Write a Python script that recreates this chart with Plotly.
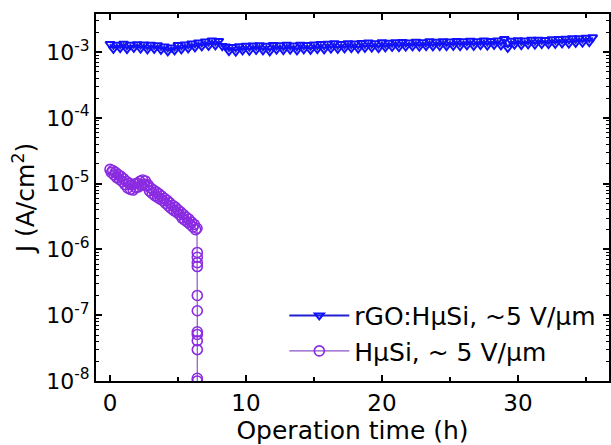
import plotly.graph_objects as go

# ---- data ----
rgo_time_h = [0.0, 0.25, 0.5, 0.75, 1.0, 1.25, 1.5, 1.75, 2.0, 2.25,
              2.5, 2.75, 3.0, 3.25, 3.5, 3.75, 4.0, 4.25, 4.5, 4.75,
              5.0, 5.25, 5.5, 5.75, 6.0, 6.25, 6.5, 6.75, 7.0, 7.25,
              7.5, 7.75, 8.0, 8.25, 8.5, 8.75, 9.0, 9.25, 9.5, 9.75,
              10.0, 10.25, 10.5, 10.75, 11.0, 11.25, 11.5, 11.75, 12.0, 12.25,
              12.5, 12.75, 13.0, 13.25, 13.5, 13.75, 14.0, 14.25, 14.5, 14.75,
              15.0, 15.25, 15.5, 15.75, 16.0, 16.25, 16.5, 16.75, 17.0, 17.25,
              17.5, 17.75, 18.0, 18.25, 18.5, 18.75, 19.0, 19.25, 19.5, 19.75,
              20.0, 20.25, 20.5, 20.75, 21.0, 21.25, 21.5, 21.75, 22.0, 22.25,
              22.5, 22.75, 23.0, 23.25, 23.5, 23.75, 24.0, 24.25, 24.5, 24.75,
              25.0, 25.25, 25.5, 25.75, 26.0, 26.25, 26.5, 26.75, 27.0, 27.25,
              27.5, 27.75, 28.0, 28.25, 28.5, 28.75, 29.0, 29.25, 29.5, 29.75,
              30.0, 30.25, 30.5, 30.75, 31.0, 31.25, 31.5, 31.75, 32.0, 32.25,
              32.5, 32.75, 33.0, 33.25, 33.5, 33.75, 34.0, 34.25, 34.5, 34.75,
              35.0, 35.25, 35.5]
# current density in mA/cm^2 (converted to A/cm^2 below)
rgo_j_mA = [1.33, 1.12, 1.30, 1.15, 1.34, 1.11, 1.29, 1.16, 1.32, 1.13,
            1.31, 1.10, 1.29, 1.12, 1.27, 1.08, 1.22, 1.03, 1.18, 1.06,
            1.28, 1.10, 1.31, 1.14, 1.35, 1.18, 1.40, 1.22, 1.45, 1.25,
            1.50, 1.27, 1.48, 1.24, 1.22, 1.04, 1.20, 1.02, 1.23, 1.06,
            1.25, 1.05, 1.26, 1.08, 1.27, 1.06, 1.25, 1.03, 1.28, 1.09,
            1.27, 1.07, 1.29, 1.09, 1.26, 1.06, 1.30, 1.10, 1.28, 1.08,
            1.31, 1.11, 1.33, 1.10, 1.34, 1.13, 1.36, 1.12, 1.33, 1.14,
            1.37, 1.15, 1.35, 1.13, 1.38, 1.16, 1.40, 1.17, 1.37, 1.15,
            1.41, 1.18, 1.39, 1.20, 1.42, 1.19, 1.43, 1.21, 1.40, 1.22,
            1.44, 1.21, 1.42, 1.23, 1.46, 1.22, 1.44, 1.24, 1.47, 1.23,
            1.45, 1.25, 1.48, 1.24, 1.46, 1.27, 1.49, 1.25, 1.47, 1.28,
            1.50, 1.26, 1.48, 1.29, 1.51, 1.27, 1.58, 1.16, 1.49, 1.30,
            1.52, 1.28, 1.50, 1.31, 1.54, 1.30, 1.55, 1.33, 1.53, 1.32,
            1.57, 1.34, 1.58, 1.36, 1.60, 1.35, 1.62, 1.38, 1.63, 1.40,
            1.66, 1.42, 1.68]

hsi_time_h = [0.0, 0.1, 0.2, 0.3, 0.4, 0.5, 0.6, 0.7, 0.8, 0.9,
              1.0, 1.1, 1.2, 1.3, 1.4, 1.5, 1.6, 1.7, 1.8, 1.9,
              2.0, 2.1, 2.2, 2.3, 2.4, 2.5, 2.6, 2.7, 2.8, 2.9,
              3.0, 3.1, 3.2, 3.3, 3.4, 3.5, 3.6, 3.7, 3.8, 3.9,
              4.0, 4.1, 4.2, 4.3, 4.4, 4.5, 4.6, 4.7, 4.8, 4.9,
              5.0, 5.1, 5.2, 5.3, 5.4, 5.5, 5.6, 5.7, 5.8, 5.9,
              6.0, 6.1, 6.2, 6.3, 6.4,
              6.42, 6.42, 6.42, 6.42, 6.42, 6.42, 6.42, 6.42, 6.42, 6.42, 6.42, 6.42]
# current density in uA/cm^2 (converted to A/cm^2 below)
hsi_j_uA = [16.5, 14.8, 15.9, 13.6, 14.9, 12.4, 13.8, 11.6, 12.9, 10.8,
            11.9, 9.7, 10.9, 8.6, 10.2, 8.2, 9.6, 8.0, 9.9, 8.7,
            10.1, 8.9, 10.9, 9.6, 11.4, 9.9, 11.0, 9.2, 9.6, 7.8,
            8.6, 7.1, 8.0, 6.6, 7.5, 6.2, 7.0, 5.8, 6.5, 5.5,
            6.0, 5.0, 5.6, 4.6, 5.1, 4.2, 4.7, 3.9, 4.4, 3.7,
            4.0, 3.4, 3.7, 3.0, 3.4, 2.8, 3.1, 2.6, 2.9, 2.4,
            2.6, 2.2, 2.4, 2.0, 2.1,
            0.90, 0.76, 0.63, 0.55, 0.20, 0.117, 0.056, 0.051, 0.041, 0.030, 0.011, 0.010]

rgo_label = "rGO:HμSi, ~5 V/μm"
hsi_label = "HμSi, ~ 5 V/μm"

y_tick_vals = [1e-8, 1e-7, 1e-6, 1e-5, 1e-4, 1e-3]
y_tick_text = ["10<sup>-8</sup>", "10<sup>-7</sup>", "10<sup>-6</sup>",
               "10<sup>-5</sup>", "10<sup>-4</sup>", "10<sup>-3</sup>"]
x_tick_vals = [0, 10, 20, 30]
x_minor_vals = [5, 15, 25, 35]
y_minor_vals = [m * d for d in y_tick_vals for m in range(2, 10)]

rgo_j = [v * 1e-3 for v in rgo_j_mA]
hsi_j = [v * 1e-6 for v in hsi_j_uA]

FONT = "DejaVu Sans, Verdana, sans-serif"

fig = go.Figure()
fig.add_trace(go.Scatter(
    x=rgo_time_h, y=rgo_j, mode="lines+markers", name=rgo_label,
    line=dict(color="#2020d0", width=2),
    marker=dict(symbol="triangle-down-open", size=8, color="#1010ff",
                line=dict(width=2, color="#1010ff")),
))
fig.add_trace(go.Scatter(
    x=hsi_time_h, y=hsi_j, mode="lines+markers", name=hsi_label,
    line=dict(color="#8b55c8", width=1.2),
    marker=dict(symbol="circle-open", size=10, color="#8a2be2",
                line=dict(width=1.6, color="#8a2be2")),
))

fig.update_layout(
    width=611, height=445,
    margin=dict(l=96, r=2, t=14, b=64, autoexpand=False),
    paper_bgcolor="white", plot_bgcolor="white",
    font=dict(family=FONT, size=22, color="black"),
    showlegend=True,
    legend=dict(x=0.985, xanchor="right", y=0.02, yanchor="bottom",
                bgcolor="rgba(0,0,0,0)", font=dict(size=25, family=FONT),
                itemwidth=60, tracegroupgap=0),
)
fig.update_xaxes(
    range=[-1.03, 36.7], tickvals=x_tick_vals, automargin=False,
    ticks="inside", ticklen=6, tickwidth=1.5, tickcolor="black",
    minor=dict(tickmode="array", tickvals=x_minor_vals, ticks="inside",
               ticklen=4, tickwidth=1.5, tickcolor="black"),
    showline=True, linecolor="black", linewidth=2, mirror="ticks",
    showgrid=False, zeroline=False,
    title=dict(text="Operation time (h)", font=dict(size=25), standoff=6),
    tickfont=dict(size=23),
)
fig.update_yaxes(
    type="log", range=[-8, -2.42], tickvals=y_tick_vals, ticktext=y_tick_text,
    automargin=False,
    ticks="inside", ticklen=6, tickwidth=1.5, tickcolor="black",
    minor=dict(tickmode="array", tickvals=y_minor_vals, ticks="inside",
               ticklen=3, tickwidth=1, tickcolor="black"),
    showline=True, linecolor="black", linewidth=2, mirror="ticks",
    showgrid=False, zeroline=False,
    title=dict(text="J (A/cm<sup>2</sup>)", font=dict(size=25), standoff=4),
    tickfont=dict(size=22),
)

fig.write_html("out.html", config={"displayModeBar": False},
               post_script="document.body.style.margin='0';document.body.style.overflow='hidden';")
